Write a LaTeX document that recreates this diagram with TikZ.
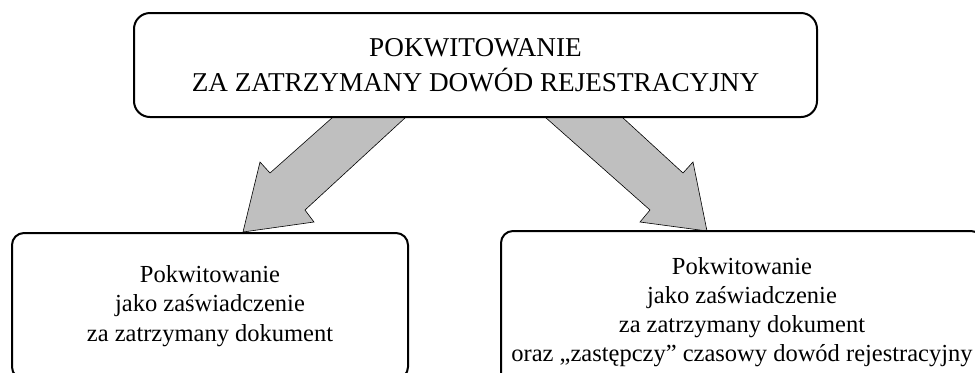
\documentclass[tikz,border=0pt]{standalone}
\usepackage{fontspec}
\setmainfont{Liberation Serif}
\usetikzlibrary{positioning}

\begin{document}
\begin{tikzpicture}[
  x=0.5pt, y=-0.5pt,
  main box/.style={
    draw, line width=1pt, fill=white,
    rounded corners=8pt, align=center,
    font=\fontsize{13.6}{17.5}\selectfont,
  },
  sub box/.style={
    draw, line width=1pt, fill=white,
    rounded corners=6pt, align=center,
    font=\fontsize{12.25}{14.6}\selectfont,
  },
  block arrow/.style={
    draw=black, line width=0.3pt, fill=black!25,
  }]
  \useasboundingbox (0,0) rectangle (975,372);
  \clip (0,0) rectangle (975,372);
  % arrows first, boxes cover their ends
  \draw[block arrow] (333,117) -- (406,117) -- (305,210) -- (314,222)
    -- (243,232) -- (260,162) -- (270,173) -- cycle;
  \draw[block arrow] (545,117) -- (622,117) -- (683,173) -- (693,162)
    -- (707,231) -- (640,222) -- (650,210) -- cycle;
  \node[main box, minimum width=341.5pt, minimum height=52pt] (receipt) at (475.5,65)
    {POKWITOWANIE\\ZA ZATRZYMANY DOWÓD REJESTRACYJNY};
  \node[sub box, minimum width=198pt, minimum height=73pt] (certificate) at (210,306)
    {Pokwitowanie\\jako zaświadczenie\\za zatrzymany dokument};
  \node[sub box, minimum width=241pt, minimum height=81pt] (substitute) at (742,312)
    {Pokwitowanie\\jako zaświadczenie\\za zatrzymany dokument\\oraz „zastępczy” czasowy dowód rejestracyjny};
\end{tikzpicture}
\end{document}
